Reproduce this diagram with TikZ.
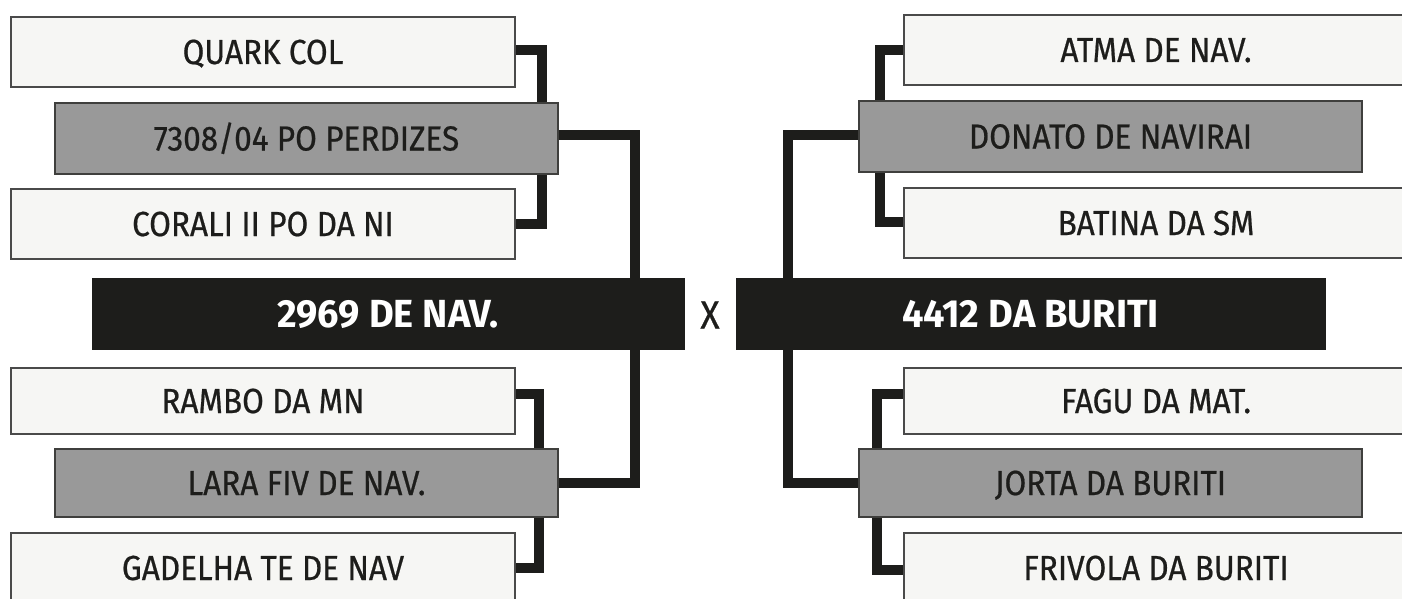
\documentclass[tikz,border=0pt]{standalone}
\usepackage{fontspec}
\setmainfont{Fira Sans}[UprightFeatures={FakeStretch=0.905, FakeBold=0.6}, BoldFeatures={FakeStretch=0.97}]
\usetikzlibrary{calc}
\pgfdeclarelayer{back}
\pgfsetlayers{back,main}
\definecolor{ink}{HTML}{1D1D1B}
\definecolor{lightfill}{HTML}{F6F6F4}
\definecolor{midfill}{HTML}{999999}
\definecolor{edge}{HTML}{4A4A4A}
\tikzset{
  base/.style={rectangle, inner sep=0pt, minimum height=35pt, text=ink,
    font=\fontsize{17.4}{20}\selectfont, text height=12pt, text depth=0pt},
  lightbox/.style={base, fill=lightfill, draw=edge, line width=0.6pt, minimum width=252pt},
  midbox/.style={base, fill=midfill, draw=ink!85, line width=0.6pt, minimum width=251.5pt, minimum height=35.5pt},
  champ/.style={rectangle, inner sep=0pt, minimum height=35.5pt, fill=ink, draw=ink,
    text=white, font=\fontsize{19.6}{22}\selectfont\bfseries, text height=13.5pt, text depth=0pt},
  conn/.style={draw=ink, line width=5pt, line join=miter, line cap=butt},
  vs/.style={text=ink, font=\fontsize{19.6}{22}\selectfont, text height=13.5pt, text depth=0pt, inner sep=0pt}
}
\begin{document}
\begin{tikzpicture}[x=0.5pt,y=-0.5pt]
\useasboundingbox (0,0) rectangle (1402,599);
\clip (0,0) rectangle (1402,599);
\begin{pgfonlayer}{back}
\fill[white] (0,0) rectangle (1402,599);
\end{pgfonlayer}
\coordinate (lj) at (634.5,313.5);
\coordinate (rj) at (787.5,313.5);
\path
  (263,52)    node[lightbox] (quark) {QUARK COL}
  (306.5,138.5) node[midbox] (perdizes) {7308/04 PO PERDIZES}
  (263,224)   node[lightbox] (corali) {CORALI II PO DA NI}
  (263,401)   node[lightbox, minimum height=33pt] (rambo) {RAMBO DA MN}
  (306.5,483) node[midbox, minimum height=34pt] (lara) {LARA FIV DE NAV.}
  (263,568)   node[lightbox] (gadelha) {GADELHA TE DE NAV}
  (1156,50)   node[lightbox] (atma) {ATMA DE NAV.}
  (1110.5,136.5) node[midbox] (donato) {DONATO DE NAVIRAI}
  (1156,223)  node[lightbox] (batina) {BATINA DA SM}
  (1156,401)  node[lightbox, minimum height=33pt] (fagu) {FAGU DA MAT.}
  (1110.5,483) node[midbox, minimum height=34pt] (jorta) {JORTA DA BURITI}
  (1156,568)  node[lightbox] (frivola) {FRIVOLA DA BURITI};
\node[champ, minimum width=296pt] (left) at (388,313.5) {2969 DE NAV.};
\node[champ, minimum width=294.5pt] (right) at (1030.5,313.5) {4412 DA BURITI};
\node[vs] (x) at (710,315) {X};
\begin{pgfonlayer}{back}
\draw[conn] ([yshift=1pt]quark.east) -- ++(26,0) |- (corali.east);
\draw[conn] ([yshift=3.5pt]rambo.east) -- ++(23,0) |- (gadelha.east);
\draw[conn] ([yshift=1.75pt]perdizes.east) -| (lj);
\draw[conn] (lara.east) -| (lj);
\draw[conn] (atma.west) -- ++(-23,0) |- ([yshift=0.5pt]batina.west);
\draw[conn] ([yshift=3.5pt]fagu.west) -- ++(-26,0) |- ([yshift=-0.75pt]frivola.west);
\draw[conn] ([yshift=0.75pt]donato.west) -| (rj);
\draw[conn] (jorta.west) -| (rj);
\end{pgfonlayer}
\end{tikzpicture}
\end{document}
